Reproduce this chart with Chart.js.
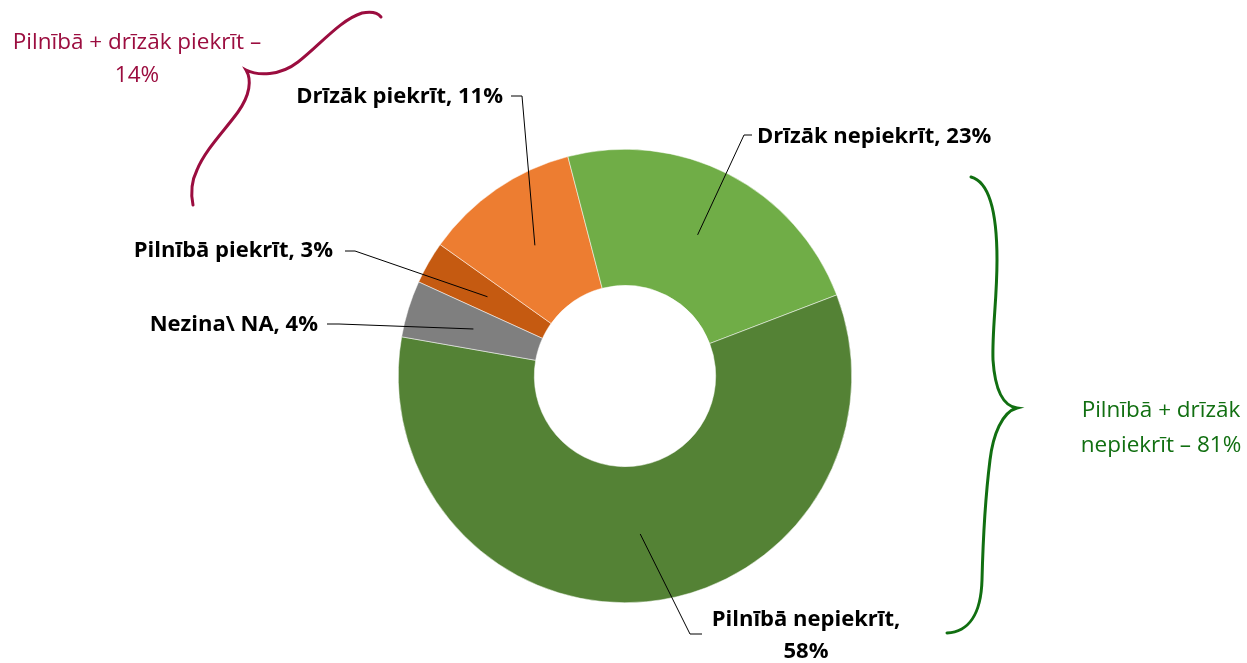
<!DOCTYPE html>
<html>
<head>
<meta charset="utf-8">
<script src="https://cdn.jsdelivr.net/npm/chart.js@4.4.0/dist/chart.umd.min.js"></script>
<style>
  body { margin: 0; background: #fff; }
  #wrap { width: 1247px; height: 663px; }
</style>
</head>
<body>
<div id="wrap"><canvas id="donut" width="1247" height="663"></canvas></div>
<script>
// survey answers, clockwise starting from the dark orange slice
const categories = ['Pilnībā piekrīt', 'Drīzāk piekrīt', 'Drīzāk nepiekrīt', 'Pilnībā nepiekrīt', 'Nezina\\ NA'];
const shares = [3, 11, 23, 58, 4];
const sliceColors = ['#C55A11', '#ED7D31', '#70AD47', '#548235', '#7F7F7F'];

const agreeNote = ['Pilnībā + drīzāk piekrīt –', '14%'];
const disagreeNote = ['Pilnībā + drīzāk', 'nepiekrīt – 81%'];

// where each data label sits, relative to the doughnut centre
const labelSpots = [
  { tx: -292, ty: -125, align: 'right', from: [-280, -125], elbow: [-270, -125] },
  { tx: -122, ty: -279, align: 'right', from: [-114, -280], elbow: [-103, -280] },
  { tx: 132, ty: -239, align: 'left', from: [127, -241], elbow: [119, -241] },
  { tx: 181, ty: 244, align: 'center', from: [77, 258], elbow: [65, 258], split: true },
  { tx: -307, ty: -51, align: 'right', from: [-298, -52], elbow: [-286, -52] }
];

const labelFont = 'bold 22px "Open Sans", Lato, sans-serif';
const noteFont = '22.5px "Open Sans", Lato, sans-serif';

const calloutPlugin = {
  id: 'callouts',
  afterDraw(chart) {
    const ctx = chart.ctx;
    const arcs = chart.getDatasetMeta(0).data;
    const cx = arcs[0].x, cy = arcs[0].y;

    ctx.save();
    // leader lines + labels
    arcs.forEach((arc, i) => {
      const spot = labelSpots[i];
      const p = arc.tooltipPosition(true);
      ctx.strokeStyle = '#000';
      ctx.lineWidth = 1;
      ctx.beginPath();
      ctx.moveTo(cx + spot.from[0], cy + spot.from[1]);
      ctx.lineTo(cx + spot.elbow[0], cy + spot.elbow[1]);
      ctx.lineTo(p.x, p.y);
      ctx.stroke();

      ctx.fillStyle = '#000';
      ctx.font = labelFont;
      ctx.textAlign = spot.align;
      ctx.textBaseline = 'middle';
      if (spot.split) {
        ctx.fillText(categories[i] + ',', cx + spot.tx, cy + spot.ty);
        ctx.fillText(shares[i] + '%', cx + spot.tx, cy + spot.ty + 32);
      } else {
        ctx.fillText(categories[i] + ', ' + shares[i] + '%', cx + spot.tx, cy + spot.ty);
      }
    });

    // maroon brace for the "agree" group
    ctx.strokeStyle = '#9B0D3F';
    ctx.lineWidth = 3;
    ctx.lineCap = 'round';
    ctx.beginPath();
    ctx.moveTo(193, 205);
    ctx.bezierCurveTo(190, 190, 192, 180, 197, 170);
    ctx.bezierCurveTo(205, 150, 225, 130, 238, 112);
    ctx.bezierCurveTo(250, 95, 252, 80, 246, 70);
    ctx.bezierCurveTo(258, 76, 280, 76, 298, 62);
    ctx.bezierCurveTo(320, 45, 340, 20, 362, 13);
    ctx.bezierCurveTo(372, 11, 378, 13, 381, 17);
    ctx.stroke();

    ctx.fillStyle = '#9B0D3F';
    ctx.font = noteFont;
    ctx.textAlign = 'center';
    ctx.fillText(agreeNote[0], 137, 43);
    ctx.fillText(agreeNote[1], 137, 76);

    // green brace for the "disagree" group
    ctx.strokeStyle = '#116F11';
    ctx.beginPath();
    ctx.moveTo(971, 177);
    ctx.bezierCurveTo(990, 182, 997, 215, 997, 260);
    ctx.bezierCurveTo(997, 300, 992, 330, 993, 360);
    ctx.bezierCurveTo(995, 390, 1003, 406, 1017, 408);
    ctx.bezierCurveTo(1002, 412, 993, 435, 990, 460);
    ctx.bezierCurveTo(985, 500, 983, 540, 982, 580);
    ctx.bezierCurveTo(981, 615, 968, 632, 947, 633);
    ctx.stroke();

    ctx.fillStyle = '#116F11';
    ctx.fillText(disagreeNote[0], 1161, 411);
    ctx.fillText(disagreeNote[1], 1161, 446);
    ctx.restore();
  }
};

new Chart(document.getElementById('donut').getContext('2d'), {
  type: 'doughnut',
  data: {
    labels: categories,
    datasets: [{
      data: shares,
      backgroundColor: sliceColors,
      borderColor: '#ffffff',
      borderWidth: 0.5
    }]
  },
  options: {
    responsive: false,
    maintainAspectRatio: false,
    animation: false,
    rotation: -65.5,
    cutout: '40%',
    layout: { padding: { top: 149, bottom: 60, left: 300, right: 297 } },
    plugins: {
      legend: { display: false },
      tooltip: { enabled: false }
    }
  },
  plugins: [calloutPlugin]
});
</script>
</body>
</html>
